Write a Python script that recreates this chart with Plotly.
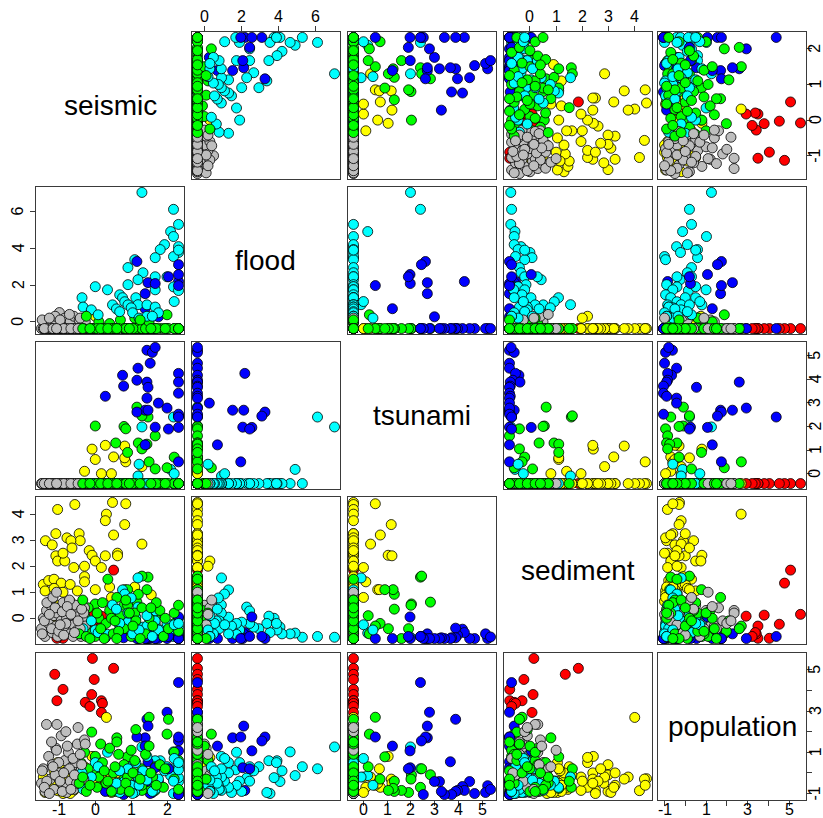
import plotly.graph_objects as go

# Each row: (seismic, flood, tsunami, sediment, population)
gray = [
    (-1.50, -0.37, -0.42, -0.40, -0.50), (-1.45, -0.37, -0.42, 0.00, 0.20),
    (-1.40, -0.37, -0.42, -0.70, -0.90), (-1.36, -0.37, -0.42, 0.30, 2.35),
    (-1.30, -0.37, -0.42, -0.20, 0.80), (-1.25, 0.00, -0.42, 0.50, -0.30),
    (-1.20, -0.37, -0.42, -0.55, 0.40), (-1.15, -0.37, -0.42, 0.10, -0.80),
    (-1.10, 0.10, -0.42, -0.30, 1.20), (-1.07, -0.37, -0.42, 0.20, 2.35),
    (-1.05, -0.37, -0.42, -0.70, -0.20), (-1.00, 0.50, -0.42, 0.40, 0.00),
    (-0.95, -0.37, -0.42, -0.10, 1.80), (-0.90, -0.37, -0.42, 0.60, -0.60),
    (-0.85, 0.20, -0.42, -0.50, 0.60), (-0.80, -0.37, -0.42, 0.00, -0.95),
    (-0.75, -0.37, -0.42, 0.30, 1.00), (-0.70, 0.00, -0.42, -0.60, -0.40),
    (-0.65, -0.37, -0.42, 0.10, 0.30), (-0.60, 0.30, -0.42, -0.25, -0.80),
    (-0.55, -0.37, -0.42, 0.50, 0.50), (-0.50, -0.37, -0.42, -0.45, 1.40),
    (-0.45, 0.10, -0.42, 0.20, -0.20), (-0.40, -0.37, -0.42, -0.70, 0.10),
    (-0.35, -0.37, -0.42, 0.00, -0.70), (-0.30, -0.37, -0.42, 0.40, 1.60),
    (-0.28, 0.00, -0.42, -0.30, 1.40), (-1.48, 0.10, -0.42, -0.60, 0.10),
    (-1.35, -0.37, -0.42, 0.60, -0.40), (-1.22, -0.37, -0.42, -0.40, 1.50),
    (-1.12, 0.30, -0.42, 0.40, -0.10), (-1.02, -0.37, -0.42, -0.50, 0.50),
    (-0.92, -0.37, -0.42, 0.25, -0.90), (-0.82, -0.37, -0.42, -0.20, 2.00),
    (-0.72, 0.40, -0.42, 0.70, 0.20), (-0.62, -0.37, -0.42, -0.70, 0.70),
    (-0.52, -0.37, -0.42, 0.05, -0.50), (-0.42, 0.20, -0.42, -0.40, 0.90),
    (-0.32, -0.37, -0.42, 0.20, -0.30), (-1.42, -0.37, -0.42, -0.10, -0.70),
    (-1.18, -0.37, -0.42, 0.80, 0.30), (-0.98, 0.10, -0.42, -0.25, -0.40),
    (-0.78, -0.37, -0.42, 0.45, 1.30), (-0.58, -0.37, -0.42, -0.55, -0.10),
    (-0.38, -0.37, -0.42, 0.35, 0.40), (-1.28, 0.20, -0.42, 0.15, -1.00),
    (-0.88, -0.37, -0.42, -0.65, 0.00), (-0.68, -0.37, -0.42, 0.15, -0.80),
    (-1.08, -0.37, -0.42, 1.00, 1.10), (-0.48, -0.37, -0.42, -0.10, 2.20),
]

yellow = [
    (0.48, -0.37, -0.42, 4.45, -0.28), (-0.57, -0.37, -0.42, 4.37, -0.30),
    (-1.05, -0.37, -0.42, 4.18, -0.86), (0.31, -0.37, -0.42, 4.00, 2.69),
    (0.28, -0.37, -0.42, 3.75, -0.20), (-0.45, -0.37, -0.42, 3.25, -0.60),
    (-0.42, -0.37, -0.42, 2.98, -0.10), (0.82, -0.37, 1.17, 3.60, -0.30),
    (-1.39, -0.37, -0.42, 2.98, -0.90), (-1.10, -0.37, -0.42, 3.25, 0.00),
    (-1.20, -0.37, -0.42, 2.82, -0.50), (-0.79, -0.37, -0.42, 3.09, -0.95),
    (-0.68, -0.37, -0.42, 2.98, 0.40), (0.51, -0.37, 0.71, 3.20, -0.70),
    (0.85, -0.37, 0.50, 4.40, -0.60), (1.30, -0.37, 0.30, 2.85, -0.20),
    (0.62, -0.37, -0.42, 2.50, -0.85), (0.62, -0.37, -0.42, 2.40, 0.00),
    (-1.10, -0.37, -0.42, 2.40, -0.30), (-1.05, -0.37, -0.42, 2.20, 0.50),
    (-0.85, -0.37, -0.42, 2.20, -0.70), (-0.90, -0.37, -0.42, 2.50, -1.00),
    (-0.65, -0.37, -0.42, 2.70, 0.20), (-0.17, -0.37, -0.42, 2.60, -0.40),
    (-0.09, -0.37, 1.04, 2.42, 0.80), (0.00, 0.30, -0.42, 2.20, 0.75),
    (0.17, -0.37, 0.00, 1.95, -0.20), (-0.60, -0.37, -0.42, 1.95, -0.85),
    (0.28, -0.37, 1.20, 2.40, -0.50), (-0.30, 0.20, -0.42, 2.00, -0.40),
    (-1.45, -0.37, -0.42, 1.30, -0.20), (-1.30, -0.37, -0.42, 1.45, -0.80),
    (-1.15, -0.37, -0.42, 1.50, 0.30), (-0.95, -0.37, -0.42, 1.35, -0.60),
    (-0.70, -0.37, -0.42, 1.30, 0.00), (-1.40, -0.37, -0.42, 1.05, -0.95),
    (-1.15, -0.37, -0.42, 1.15, 0.10), (-0.90, -0.37, -0.42, 1.00, -0.40),
    (-0.30, -0.37, -0.42, 1.60, -0.10), (-0.30, -0.37, 0.10, 1.40, -0.70),
    (-0.50, -0.37, -0.42, 1.05, 0.50), (0.00, -0.37, 0.60, 1.10, -0.50),
    (0.40, -0.37, -0.42, 1.20, -0.90), (0.82, -0.37, 0.67, 1.10, 0.20),
    (1.10, -0.37, -0.42, 1.20, -0.60), (1.56, -0.37, -0.42, 0.90, -0.95),
    (-1.30, -0.37, -0.42, 0.60, -0.70), (-1.00, -0.37, -0.42, 0.50, 0.40),
    (-0.70, -0.37, -0.42, 0.65, -1.00), (-1.20, -0.37, -0.42, -0.20, -0.40),
    (-0.90, -0.37, -0.42, -0.40, 0.00), (-0.30, 0.00, -0.42, 0.30, 0.30),
    (0.45, -0.37, 0.00, 0.80, -0.95),
]

green = [
    (0.00, -0.37, 2.02, 0.55, -0.10), (1.16, -0.37, 2.82, 0.62, -0.09),
    (1.47, -0.37, 2.40, 1.58, -0.70), (1.30, -0.37, 2.45, 1.62, 0.20),
    (0.80, -0.37, 2.00, 0.50, -0.30), (0.85, -0.37, 1.90, -0.40, -0.95),
    (1.67, -0.37, 1.60, -0.78, -0.85), (0.57, -0.37, 1.30, 0.35, -0.90),
    (1.20, -0.37, 1.30, 0.92, -0.40), (1.44, -0.37, 1.25, 1.10, -0.75),
    (1.30, -0.37, 1.05, -0.40, -0.85), (2.20, -0.37, 0.70, -0.20, -0.30),
    (1.50, -0.37, 0.50, -0.30, 2.70), (0.90, -0.37, 0.90, 1.10, 0.78),
    (1.67, -0.37, 0.20, 0.10, 0.30), (2.00, 0.38, 0.25, -0.60, 1.88),
    (-0.40, -0.37, -0.42, -0.30, 0.50), (-0.30, -0.37, -0.42, 0.10, 1.00),
    (-0.20, -0.37, -0.42, 0.40, 0.20), (-0.10, -0.37, -0.42, -0.50, 1.98),
    (0.00, -0.37, -0.42, -0.70, 0.80), (0.10, 0.00, -0.42, 0.00, -0.20),
    (0.20, -0.37, -0.42, 0.60, 0.50), (0.30, -0.37, -0.42, -0.20, -0.50),
    (0.40, -0.10, -0.42, 0.30, 1.20), (0.50, -0.37, -0.42, -0.60, 0.00),
    (0.60, -0.37, -0.42, 0.80, 1.70), (0.70, 0.10, -0.42, 0.10, -0.80),
    (0.80, -0.37, -0.42, -0.40, 0.40), (0.90, -0.37, -0.42, 0.50, -0.20),
    (1.00, -0.37, -0.42, -0.70, 1.10), (1.10, 0.20, -0.42, 0.20, 0.60),
    (1.13, -0.37, -0.42, -0.10, 2.10), (1.30, -0.37, -0.42, 0.40, -0.60),
    (1.40, -0.37, -0.42, -0.60, 0.90), (1.50, 0.00, -0.42, 0.00, 1.30),
    (1.60, -0.37, -0.42, -0.30, -0.20), (1.80, -0.37, -0.42, 0.30, 0.40),
    (1.90, -0.37, -0.42, -0.70, -0.70), (2.04, -0.37, -0.42, -0.40, 2.60),
    (2.20, -0.37, -0.42, 0.20, 1.00), (2.32, -0.37, -0.42, -0.50, 0.60),
    (-0.45, -0.37, -0.42, -0.60, -0.50), (-0.25, 0.30, -0.42, -0.70, -0.90),
    (0.05, -0.37, -0.42, 0.20, -0.70), (0.25, -0.37, -0.42, -0.78, 0.10),
    (0.45, -0.37, -0.42, 0.00, -0.90), (0.65, -0.37, -0.42, -0.50, 0.90),
    (0.85, -0.37, -0.42, 0.70, -0.50), (1.05, -0.37, -0.42, -0.30, 0.00),
    (1.25, 0.10, -0.42, -0.78, -0.30), (1.70, -0.37, -0.42, 0.60, -0.60),
    (1.95, -0.37, -0.42, 0.00, 0.20), (2.32, -0.37, -0.42, 0.50, -0.80),
    (-0.35, -0.37, -0.42, 0.70, -0.20), (0.15, -0.37, -0.42, -0.40, 1.40),
    (0.55, -0.37, -0.42, -0.10, 0.30), (0.95, -0.37, -0.42, 0.20, -0.90),
    (1.55, -0.37, -0.42, 0.40, 0.00), (0.35, -0.37, -0.42, 1.50, -0.40),
    (0.60, -0.37, -0.42, -0.78, 1.50), (-0.15, -0.37, -0.42, -0.78, -0.60),
]

cyan = [
    (1.30, 7.04, 1.98, -0.73, 1.26), (2.18, 6.12, 2.40, -0.70, 0.20),
    (2.32, 5.30, -0.42, -0.73, 0.30), (2.10, 4.91, 0.18, -0.57, -0.13),
    (2.18, 4.64, -0.42, -0.60, 1.02), (2.32, 4.09, -0.42, -0.34, -0.42),
    (1.93, 4.20, -0.42, -0.60, 0.10), (1.81, 3.93, -0.42, -0.45, 0.59),
    (2.32, 3.77, -0.42, 0.00, -0.23), (1.67, 3.49, -0.42, 0.08, 0.59),
    (2.18, 3.55, -0.42, -0.55, -1.00), (1.10, 3.38, -0.42, -0.20, -0.95),
    (0.91, 2.95, -0.42, -0.40, 0.30), (1.33, 2.67, -0.42, -0.34, 0.10),
    (1.19, 2.29, -0.42, 0.43, -0.25), (1.67, 2.45, -0.42, 0.28, -0.40),
    (2.00, 2.45, -0.42, -0.20, 0.30), (0.91, 2.02, -0.42, -0.15, -0.90),
    (2.18, 1.90, -0.42, -0.55, -0.40), (2.32, 1.70, -0.42, -0.62, 0.15),
    (0.00, 1.91, -0.42, -0.45, 0.50), (0.34, 1.74, -0.42, -0.62, 1.00),
    (1.67, 1.74, -0.42, -0.20, -0.60), (0.68, 1.47, -0.42, -0.30, -0.95),
    (0.76, 1.31, -0.42, 1.09, -0.70), (0.82, 1.09, -0.42, 0.93, -0.40),
    (-0.37, 1.31, -0.42, -0.60, 0.00), (1.13, 1.31, -0.42, 0.04, 0.50),
    (1.19, 0.93, -0.10, 1.55, -0.20), (0.48, 0.92, -0.42, 0.51, -0.85),
    (0.91, 0.92, -0.42, 0.20, 0.20), (1.00, 0.76, -0.42, 0.78, -0.60),
    (1.44, 0.92, -0.42, -0.30, 0.80), (1.67, 0.80, -0.42, -0.10, -0.80),
    (1.76, 0.49, -0.42, -0.45, -0.30), (-0.34, 0.80, -0.42, -0.40, -0.80),
    (-0.11, 0.65, -0.42, -0.10, -0.20), (0.08, 0.38, -0.42, -0.55, 0.30),
    (0.59, 0.70, -0.42, 0.35, -0.50), (0.68, 0.55, -0.42, -0.20, 0.10),
    (1.04, 0.49, -0.42, -0.60, -1.00), (1.22, 0.20, 0.40, -0.45, -0.60),
    (2.20, 1.10, 0.00, -0.25, 0.70), (1.44, 0.30, -0.42, 0.10, -0.35),
    (1.59, 0.30, -0.42, -0.70, -0.90), (2.32, 3.90, -0.42, -0.20, 0.50),
]

blue = [
    (1.44, -0.37, 5.23, -0.78, -0.62), (1.59, -0.37, 5.14, -0.60, -0.95),
    (1.67, -0.37, 5.35, -0.72, -0.80), (1.53, -0.37, 4.68, -0.78, -1.00),
    (1.19, -0.37, 4.47, -0.78, -0.42), (0.76, -0.37, 4.17, -0.42, -0.66),
    (2.32, 2.19, 4.25, -0.55, -0.85), (1.16, -0.37, 3.96, -0.65, -0.85),
    (1.44, -0.37, 3.88, -0.38, 2.60), (2.32, -0.37, 3.88, -0.75, -0.90),
    (0.79, -0.37, 3.71, -0.75, -1.05), (1.47, -0.37, 3.66, -0.78, 0.54),
    (2.32, -0.37, 3.41, -0.78, -1.05), (0.28, -0.37, 3.28, -0.75, -0.90),
    (1.44, -0.37, 3.20, -0.78, -0.42), (1.76, 0.27, 2.99, -0.78, -0.42),
    (1.39, 1.53, 2.69, -0.78, 1.70), (1.47, 2.13, 2.69, -0.60, 2.27),
    (1.16, 3.28, 2.61, -0.78, 1.74), (2.32, 3.11, 2.44, -0.70, 1.55),
    (2.00, -0.37, 2.78, -0.78, 2.94), (2.32, -0.37, 2.52, -0.78, -1.05),
    (2.32, -0.37, 2.40, -0.70, 4.38), (1.67, 2.08, 1.97, -0.78, 0.25),
    (2.32, 2.57, 1.96, 0.05, 1.07), (1.39, 0.71, 1.22, -0.78, 1.30),
    (2.32, 1.97, 0.50, -0.78, 1.74), (2.04, 2.45, 1.89, -0.70, 0.20),
]

red = [
    (-0.08, -0.37, -0.42, 0.15, 5.55), (0.51, -0.37, -0.42, 1.85, 5.07),
    (-1.13, -0.37, -0.42, 1.35, 4.78), (-0.03, -0.37, -0.42, -0.23, 4.53),
    (-0.90, -0.37, -0.42, -0.77, 4.05), (-0.10, -0.37, -0.42, 0.12, 3.80),
    (-1.07, -0.37, -0.42, -0.77, 3.50), (-0.28, -0.37, -0.42, -0.60, 3.42),
    (0.17, -0.37, -0.42, -0.30, 3.50), (0.20, -0.37, -0.42, -0.55, 3.37),
    (-0.15, -0.37, -0.42, -0.70, 3.22), (0.17, -0.37, -0.42, 0.08, 2.93),
]

var_names = ["seismic", "flood", "tsunami", "sediment", "population"]
tick_values = [
    [-1, 0, 1, 2],
    [0, 2, 4, 6],
    [0, 1, 2, 3, 4, 5],
    [-1, 0, 1, 2, 3, 4],
    [-1, 0, 1, 2, 3, 4, 5],
]
tick_labels = [
    ["-1", "0", "1", "2"],
    ["0", "2", "4", "6"],
    ["0", "1", "2", "3", "4", "5"],
    ["-1", "0", "1", "2", "3", "4"],
    ["-1", "", "1", "", "3", "", "5"],
]

# yellow and red go underneath; the other groups are interleaved
under = [("#FF0000", red), ("#FFFF00", yellow)]
mixed = [("#BEBEBE", gray), ("#0000FF", blue), ("#00FF00", green),
         ("#00FFFF", cyan)]

data = [[] for _ in range(5)]
colors = []


def add_point(col, r):
    for v in range(5):
        data[v].append(r[v])
    colors.append(col)


for col, rows in under:
    for r in rows:
        add_point(col, r)
longest = max(len(rows) for _, rows in mixed)
for idx in range(longest):
    for col, rows in mixed:
        if idx < len(rows):
            add_point(col, rows[idx])

ranges = []
for v in range(5):
    lo, hi = min(data[v]), max(data[v])
    ext = 0.04 * (hi - lo)
    ranges.append([lo - ext, hi + ext])

W, H = 823, 818
col_x0 = [36, 192, 348, 504, 658]
row_y0 = [32, 187, 342, 497, 653]
PW, PH = 148, 147
FONT = "Liberation Sans, Arial, sans-serif"
LINE = "#3a3a3a"
TICKFONT = dict(family=FONT, size=16, color="black")

fig = go.Figure()
annotations = []
layout = dict(width=W, height=H, autosize=False,
              margin=dict(l=0, r=0, t=0, b=0, pad=0),
              paper_bgcolor="white", plot_bgcolor="white",
              showlegend=False)

for i in range(5):
    for j in range(5):
        k = i * 5 + j + 1
        xn = "x" if k == 1 else f"x{k}"
        yn = "y" if k == 1 else f"y{k}"
        xk = "xaxis" if k == 1 else f"xaxis{k}"
        yk = "yaxis" if k == 1 else f"yaxis{k}"
        xd = [col_x0[j] / W, (col_x0[j] + PW) / W]
        yd = [1 - (row_y0[i] + PH) / H, 1 - row_y0[i] / H]

        x_lab_top = (i == 0 and j % 2 == 1)
        x_lab_bot = (i == 4 and j % 2 == 0)
        y_lab_left = (j == 0 and i % 2 == 1)
        y_lab_right = (j == 4 and i % 2 == 0)

        xa = dict(domain=xd, anchor=yn, showline=True, mirror=True,
                  linecolor=LINE, linewidth=1, showgrid=False, zeroline=False,
                  fixedrange=True, automargin=False, showticklabels=False,
                  ticks="", range=ranges[j])
        ya = dict(domain=yd, anchor=xn, showline=True, mirror=True,
                  linecolor=LINE, linewidth=1, showgrid=False, zeroline=False,
                  fixedrange=True, automargin=False, showticklabels=False,
                  ticks="", range=ranges[i])
        if i == j:
            annotations.append(dict(
                text=var_names[i], xref="paper", yref="paper",
                x=(xd[0] + xd[1]) / 2, y=(yd[0] + yd[1]) / 2,
                showarrow=False, font=dict(family=FONT, size=28, color="black"),
                xanchor="center", yanchor="middle"))
        else:
            fig.add_trace(go.Scatter(
                x=data[j], y=data[i], mode="markers", xaxis=xn, yaxis=yn,
                marker=dict(size=10, color=colors,
                            line=dict(color="black", width=0.8)),
                hoverinfo="skip", showlegend=False))

        if x_lab_top or x_lab_bot:
            xa.update(ticks="outside", ticklen=5, tickcolor=LINE, tickwidth=1,
                      tickvals=tick_values[j],
                      side="top" if x_lab_top else "bottom")
            ypos = yd[1] if x_lab_top else yd[0]
            for tv, tt in zip(tick_values[j], tick_labels[j]):
                if tt:
                    annotations.append(dict(
                        text=tt, x=tv, xref=xn, y=ypos, yref="paper",
                        yshift=15 if x_lab_top else -9,
                        xanchor="center", yanchor="middle", showarrow=False,
                        font=TICKFONT))
        if y_lab_left or y_lab_right:
            ya.update(ticks="outside", ticklen=5, tickcolor=LINE, tickwidth=1,
                      tickvals=tick_values[i],
                      side="left" if y_lab_left else "right")
            xpos = xd[0] if y_lab_left else xd[1]
            for tv, tt in zip(tick_values[i], tick_labels[i]):
                if tt:
                    annotations.append(dict(
                        text=tt, y=tv, yref=yn, x=xpos, xref="paper",
                        xshift=-18 if y_lab_left else 9, textangle=-90,
                        xanchor="center", yanchor="middle", showarrow=False,
                        font=TICKFONT))
        layout[xk] = xa
        layout[yk] = ya

layout["annotations"] = annotations
fig.update_layout(**layout)
fig.write_html("out.html",
               config={"displayModeBar": False, "staticPlot": True},
               post_script="document.body.style.margin='0';"
                           "document.body.style.overflow='hidden';")
